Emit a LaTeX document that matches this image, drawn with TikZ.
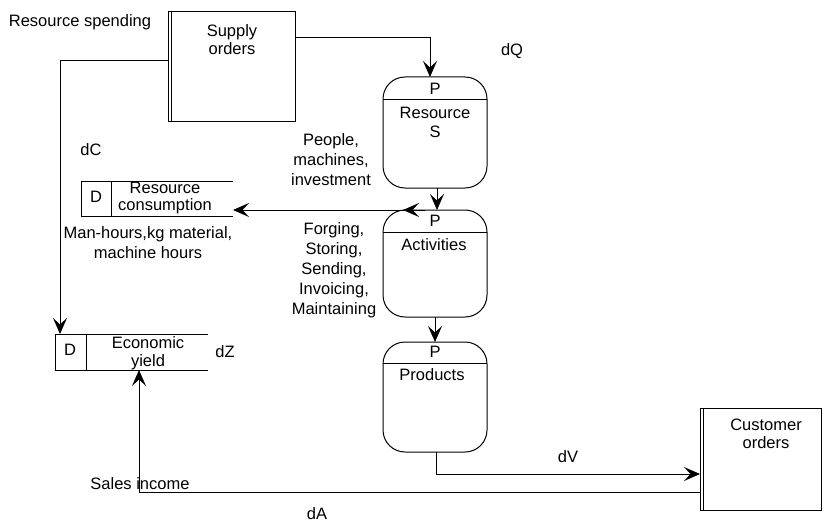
\documentclass[tikz,border=0pt]{standalone}
\usepackage{fontspec}
\setmainfont{Liberation Sans}
\usetikzlibrary{arrows.meta,decorations.markings}
\begin{document}
\begin{tikzpicture}[x=1pt,y=-1pt,
  font=\fontsize{16.5}{20}\selectfont,
  every node/.style={inner sep=0pt,outer sep=0pt},
  lbl/.style={align=center},
  tight/.style={align=center,font=\fontsize{16.5}{17.5}\selectfont},
  tip/.tip={Stealth[length=16pt,width=14pt,inset=6.5pt]},
  arr/.style={-tip,line width=1pt},
  ln/.style={line width=1pt},
  ext/.style={draw,line width=1pt,rectangle,anchor=north west},
  proc/.style={draw,line width=1pt,rounded corners=22pt,minimum width=104pt,anchor=north west},
  dstore/.style={rectangle,anchor=north west}]
\useasboundingbox (0,0) rectangle (824,524);

% external entities
\node[ext,minimum width=127pt,minimum height=110pt] (supply) at (168,12) {};
\draw[ln] ([xshift=3pt]supply.north west) -- ([xshift=3pt]supply.south west);
\node[lbl,font=\fontsize{16.5}{18}\selectfont] (supplyT) at (232,40) {Supply\\orders};

\node[ext,minimum width=121pt,minimum height=102pt] (cust) at (700,408) {};
\draw[ln] ([xshift=3pt]cust.north west) -- ([xshift=3pt]cust.south west);
\node[lbl,font=\fontsize{16.5}{18}\selectfont] (custT) at (766,434) {Customer\\orders};

% processes
\node[proc,minimum height=111pt] (res) at (383,77) {};
\draw[ln] ([yshift=-23pt]res.north west) -- ([yshift=-23pt]res.north east);
\node (resP) at (435,89) {P};
\node[lbl,font=\fontsize{16.5}{19}\selectfont] (resT) at (435,122) {Resource\\S};

\node[proc,minimum height=107pt] (act) at (383,210) {};
\draw[ln] ([yshift=-22pt]act.north west) -- ([yshift=-22pt]act.north east);
\node (actP) at (435,221) {P};
\node (actT) at (434,245) {Activities};

\node[proc,minimum height=110pt] (prod) at (383,342) {};
\draw[ln] ([yshift=-21pt]prod.north west) -- ([yshift=-21pt]prod.north east);
\node (prodP) at (435,352) {P};
\node (prodT) at (432,375) {Products};

% data stores
\node[dstore,minimum width=152pt,minimum height=35pt] (rc) at (81,181) {};
\draw[ln] (rc.north east) -- (rc.north west) -- (rc.south west) -- (rc.south east);
\draw[ln] ([xshift=30pt]rc.north west) -- ([xshift=30pt]rc.south west);
\node (rcD) at (96,197) {D};
\node[tight] (rcT) at (165,198) {Resource\\consumption};

\node[dstore,minimum width=153pt,minimum height=36pt] (ey) at (55,334) {};
\draw[ln] (ey.north east) -- (ey.north west) -- (ey.south west) -- (ey.south east);
\draw[ln] ([xshift=31pt]ey.north west) -- ([xshift=31pt]ey.south west);
\node (eyD) at (70,350) {D};
\node[tight] (eyT) at (148,353) {Economic\\yield};

% connectors
\draw[arr] ([yshift=-26pt]supply.north east) -| ([xshift=-5pt]res.north);
\draw[arr] ([yshift=-49pt]supply.north west) -| ([xshift=5pt]ey.north west);
\draw[arr] ([xshift=2pt]res.south) -- ([xshift=2pt]act.north);
\draw[arr] (act.south) -- (prod.north);
\draw[arr,postaction={decorate},decoration={markings,
  mark=at position 22pt with {\arrow{tip}}}]
  ([xshift=-10pt]act.north) -- (rc.east |- act.north);
\draw[arr] ([xshift=1pt]prod.south) |- ([yshift=-15pt]cust.west);
\draw[arr] ([yshift=18pt]cust.south west) -| ([xshift=84pt]ey.south west);

% labels
\node (lRS) at (80,22) {Resource spending};
\node (ldQ) at (512,51) {dQ};
\node (ldC) at (91,150) {dC};
\node[lbl] (lPeople) at (331,160) {People,\\machines,\\investment};
\node[lbl] (lForg) at (334,270) {Forging,\\Storing,\\Sending,\\Invoicing,\\Maintaining};
\node[lbl] (lMan) at (148,243) {Man-hours,kg material,\\machine hours};
\node (ldZ) at (225,352) {dZ};
\node (ldV) at (568,457) {dV};
\node (lSales) at (140,484) {Sales income};
\node (ldA) at (317,514) {dA};
\end{tikzpicture}
\end{document}
